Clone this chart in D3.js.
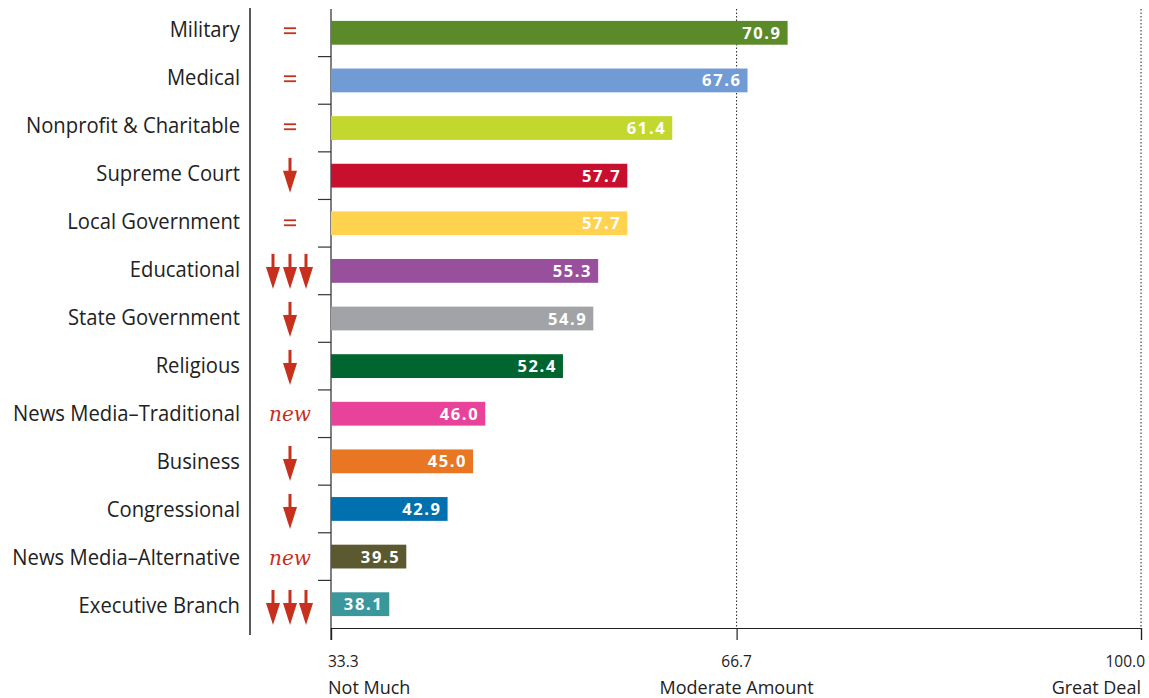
<!DOCTYPE html>
<html>
<head>
<meta charset="utf-8">
<script src="https://cdn.jsdelivr.net/npm/d3@7"></script>
<style>
  body { margin: 0; background: #fff; }
  svg { display: block; }
</style>
</head>
<body>
<svg id="chart"></svg>
<script>
const categories = ['Military', 'Medical', 'Nonprofit & Charitable', 'Supreme Court', 'Local Government',
  'Educational', 'State Government', 'Religious', 'News Media–Traditional', 'Business',
  'Congressional', 'News Media–Alternative', 'Executive Branch']
const values = [70.9, 67.6, 61.4, 57.7, 57.7, 55.3, 54.9, 52.4, 46.0, 45.0, 42.9, 39.5, 38.1]
const trends = ['=', '=', '=', 'down', '=', 'down3', 'down', 'down', 'new', 'down', 'down', 'new', 'down3']
const barColors = ['#5b8a29', '#709bd5', '#c3d82f', '#c8102e', '#ffd350', '#984f9c', '#a2a3a6',
  '#00652f', '#e8429a', '#e87623', '#0071ae', '#5b5930', '#3a989c']
const tickValues = [33.3, 66.7, 100.0]
const tickNames = ['Not Much', 'Moderate Amount', 'Great Deal']

const width = 1149
const height = 698
const fontFamily = '"Open Sans", "DejaVu Sans", sans-serif'
const red = '#c7301d'

const svg = d3.select('#chart')
  .attr('width', width)
  .attr('height', height)

const x = d3.scaleLinear().domain([33.3, 100]).range([331, 1141])
const y = d3.scaleBand().domain(categories).range([9, 628]).paddingInner(0.5).paddingOuter(0.25)
const step = y.step()

// dotted reference lines
tickValues.slice(1).forEach(v => {
  svg.append('line')
    .attr('x1', x(v)).attr('x2', x(v))
    .attr('y1', 9).attr('y2', 628)
    .attr('stroke', '#222')
    .attr('stroke-width', 1)
    .attr('stroke-dasharray', '1.5,2')
})

// left divider
svg.append('line')
  .attr('x1', 250).attr('x2', 250)
  .attr('y1', 8).attr('y2', 635)
  .attr('stroke', '#222').attr('stroke-width', 1.5)

// y axis with ticks between rows
svg.append('line')
  .attr('x1', 331).attr('x2', 331)
  .attr('y1', 9).attr('y2', 640)
  .attr('stroke', '#555').attr('stroke-width', 1.5)

categories.slice(1).forEach(c => {
  const yy = y(c) - (step - y.bandwidth()) / 2
  svg.append('line')
    .attr('x1', 318).attr('x2', 331)
    .attr('y1', yy).attr('y2', yy)
    .attr('stroke', '#333').attr('stroke-width', 1.2)
})

// x axis
const xAxis = d3.axisBottom(x).tickValues(tickValues).tickSize(12).tickFormat('')
const gx = svg.append('g').attr('transform', 'translate(0,628)').call(xAxis)
gx.select('.domain').attr('stroke', '#222').attr('stroke-width', 1.2)
gx.selectAll('.tick line').attr('stroke', '#222').attr('stroke-width', 1.2)

const anchors = ['start', 'middle', 'end']
const nudges = [-3, 0, 4]
tickValues.forEach((v, i) => {
  svg.append('text')
    .attr('x', x(v) + nudges[i]).attr('y', 667)
    .attr('text-anchor', anchors[i])
    .attr('font-family', fontFamily).attr('font-size', '15.5px')
    .attr('fill', '#222')
    .text(v.toFixed(1))
  svg.append('text')
    .attr('x', x(v) + nudges[i] - (i === 2 ? 4 : 0)).attr('y', 694)
    .attr('text-anchor', anchors[i])
    .attr('font-family', fontFamily).attr('font-size', '18px')
    .attr('fill', '#222')
    .text(tickNames[i])
})

// bars
svg.selectAll('rect.bar')
  .data(values)
  .join('rect')
  .attr('class', 'bar')
  .attr('x', x(33.3))
  .attr('y', (d, i) => y(categories[i]))
  .attr('width', d => x(d) - x(33.3))
  .attr('height', y.bandwidth())
  .attr('fill', (d, i) => barColors[i])

svg.selectAll('text.val')
  .data(values)
  .join('text')
  .attr('class', 'val')
  .attr('x', d => x(d) - 6)
  .attr('y', (d, i) => y(categories[i]) + y.bandwidth() / 2 + 6)
  .attr('text-anchor', 'end')
  .attr('font-family', fontFamily).attr('font-size', '16.5px')
  .attr('font-weight', 'bold')
  .attr('letter-spacing', '1.6px')
  .attr('fill', '#fff')
  .text(d => d.toFixed(1))

// category labels (slightly condensed, taller type)
svg.selectAll('text.cat')
  .data(categories)
  .join('text')
  .attr('class', 'cat')
  .attr('transform', (d, i) => `translate(240,${y(d) + y.bandwidth() / 2 + 4 + 0.4 * i}) scale(0.92,1)`)
  .attr('text-anchor', 'end')
  .attr('font-family', fontFamily).attr('font-size', '22px')
  .attr('fill', '#222')
  .text(d => d)

// trend markers
function drawArrow(cx, cy) {
  svg.append('rect')
    .attr('x', cx - 1.5).attr('y', cy - 17)
    .attr('width', 3).attr('height', 17)
    .attr('fill', red)
  svg.append('path')
    .attr('d', `M${cx - 7},${cy - 4} L${cx + 7},${cy - 4} L${cx},${cy + 18} Z`)
    .attr('fill', red)
}

trends.forEach((t, i) => {
  const cy = y(categories[i]) + y.bandwidth() / 2 - 2 + 0.4 * i
  const cx = 290
  if (t === '=') {
    svg.append('rect').attr('x', cx - 6).attr('y', cy - 3.5).attr('width', 12).attr('height', 1.8).attr('fill', red)
    svg.append('rect').attr('x', cx - 6).attr('y', cy + 1.5).attr('width', 12).attr('height', 1.8).attr('fill', red)
  } else if (t === 'down') {
    drawArrow(cx, cy)
  } else if (t === 'down3') {
    drawArrow(cx - 17, cy)
    drawArrow(cx, cy)
    drawArrow(cx + 16, cy)
  } else if (t === 'new') {
    svg.append('text')
      .attr('x', cx).attr('y', cy + 6)
      .attr('text-anchor', 'middle')
      .attr('font-family', '"DejaVu Serif", "Liberation Serif", serif')
      .attr('font-style', 'italic')
      .attr('font-size', '20px')
      .attr('fill', red)
      .text('new')
  }
})
</script>
</body>
</html>
